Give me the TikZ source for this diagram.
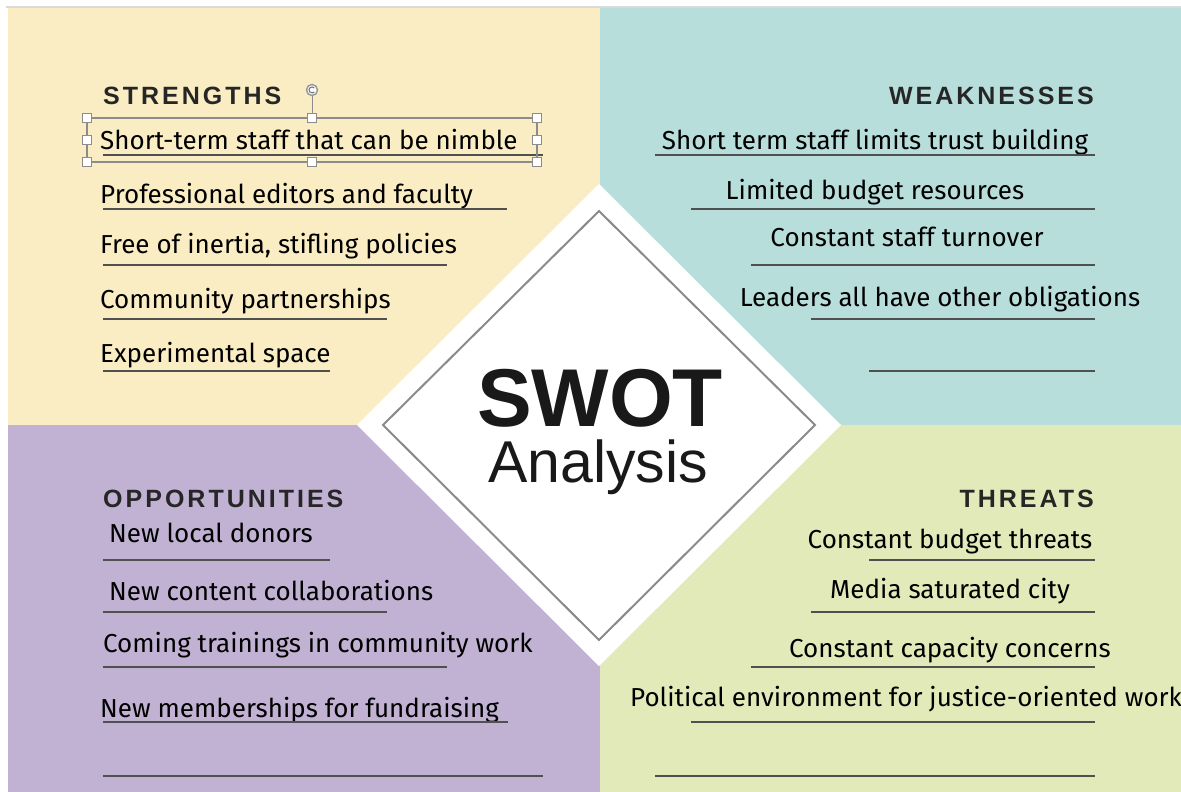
\documentclass[tikz,border=0pt]{standalone}
\usepackage{fontspec}
\setmainfont{Fira Sans}
\newfontfamily\headfont[LetterSpace=12]{Liberation Sans}
\newfontfamily\swotfont{Liberation Sans}
\definecolor{strcol}{RGB}{250,237,196}
\definecolor{weakcol}{RGB}{184,222,220}
\definecolor{oppcol}{RGB}{193,178,212}
\definecolor{thrcol}{RGB}{226,234,186}
\definecolor{rulecol}{RGB}{80,80,80}
\definecolor{framecol}{RGB}{138,138,138}

\begin{document}
\begin{tikzpicture}[x=1pt, y=-1pt,
    heading/.style={font=\headfont\bfseries\fontsize{25}{30}\selectfont, text=black!85, inner sep=0pt},
    item/.style={font=\fontsize{26}{30}\selectfont, text=black, inner sep=0pt},
    uline/.style={draw=rulecol, line width=1.2pt},
    handle/.style={draw=black!45, fill=white, line width=0.8pt, minimum size=9pt, inner sep=0pt}]
        \useasboundingbox (0,0) rectangle (1181,792);
        \fill[white] (0,0) rectangle (1181,792);
        \draw[black!15, line width=1.5pt] (6,7) -- (1181,7);
        \fill[strcol] (8,8) rectangle (600,425);
        \fill[weakcol] (600,8) rectangle (1181,425);
        \fill[oppcol] (8,425) rectangle (600,792);
        \fill[thrcol] (600,425) rectangle (1181,792);
        \fill[white] (599,184) -- (841,425) -- (599,666) -- (357,425) -- cycle;
        \draw[framecol, line width=2pt] (599,211) -- (815,425) -- (599,640) -- (383,425) -- cycle;

        \node[font=\swotfont\bfseries\fontsize{82}{90}\selectfont, text=black!90, inner sep=0pt, text depth=0pt, anchor=base] (swot) at (600,426) {SWOT};
        \node[font=\swotfont\fontsize{59}{66}\selectfont, text=black!90, inner sep=0pt, anchor=base] (analysis) at (598,482) {Analysis};

        \node[heading, anchor=base west] (strengths) at (103,104) {STRENGTHS};
        \node[heading, anchor=base east] (weaknesses) at (1094,104) {WEAKNESSES};
        \node[heading, anchor=base west] (opportunities) at (103,507) {OPPORTUNITIES};
        \node[heading, anchor=base east] (threats) at (1094,507) {THREATS};

        \node[item, anchor=base west] (s1) at (100,149) {Short-term staff that can be nimble};
        \node[item, anchor=base west] (s2) at (100,203) {Professional editors and faculty};
        \node[item, anchor=base west] (s3) at (100,253) {Free of inertia, stifling policies};
        \node[item, anchor=base west] (s4) at (100,308) {Community partnerships};
        \node[item, anchor=base west] (s5) at (100,362) {Experimental space};

        \node[item, anchor=base] (w1) at (875,149) {Short term staff limits trust building};
        \node[item, anchor=base] (w2) at (875,199) {Limited budget resources};
        \node[item, anchor=base] (w3) at (907,246) {Constant staff turnover};
        \node[item, anchor=base] (w4) at (940,306) {Leaders all have other obligations};

        \node[item, anchor=base west] (o1) at (109,542) {New local donors};
        \node[item, anchor=base west] (o2) at (109,600) {New content collaborations};
        \node[item, anchor=base west] (o3) at (103,652) {Coming trainings in community work};
        \node[item, anchor=base west] (o4) at (100,717) {New memberships for fundraising};

        \node[item, anchor=base] (t1) at (950,548) {Constant budget threats};
        \node[item, anchor=base] (t2) at (950,598) {Media saturated city};
        \node[item, anchor=base] (t3) at (950,657) {Constant capacity concerns};
        \node[item, anchor=base west] (t4) at (630,706) {Political environment for justice-oriented work};

        \foreach \y/\a/\b in {155/103/543, 209/103/507, 265/103/447, 319/103/387, 371/103/330,
                              560/103/330, 612/103/387, 667/103/447, 722/103/508, 776/103/543,
                              155/655/1095, 209/691/1095, 265/751/1095, 319/811/1095, 371/869/1095,
                              560/869/1095, 612/811/1095, 667/751/1095, 722/691/1095, 776/655/1095}
            \draw[uline] (\a,\y) -- (\b,\y);

        \draw[black!45, line width=1.2pt] (87,118) rectangle (537,162);
        \draw[black!45, line width=0.8pt] (312,118) -- (312,95);
        \node[circle, draw=black!40, fill=white, line width=1.5pt, minimum size=11pt, inner sep=0pt] (rot) at (312,90) {};
        \draw[black!55, line width=1pt] (rot.center) ++(40:3pt) arc (40:320:3pt);
        \node[handle] (h1) at (87,118) {};
        \node[handle] (h2) at (312,118) {};
        \node[handle] (h3) at (537,118) {};
        \node[handle] (h4) at (87,140) {};
        \node[handle] (h5) at (537,140) {};
        \node[handle] (h6) at (87,162) {};
        \node[handle] (h7) at (312,162) {};
        \node[handle] (h8) at (537,162) {};
    \end{tikzpicture}
\end{document}
